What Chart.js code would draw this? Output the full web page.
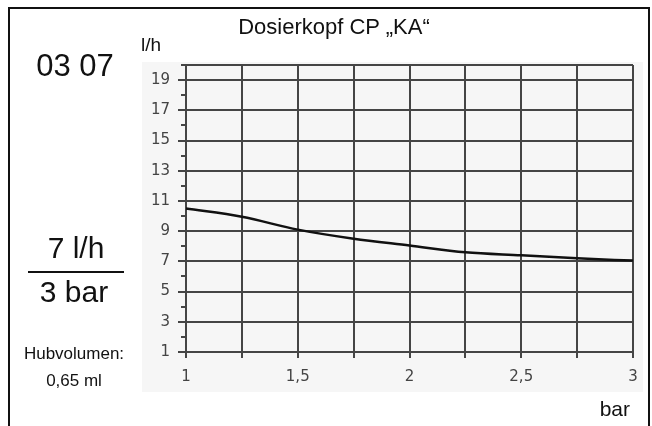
<!DOCTYPE html>
<html>
<head>
<meta charset="utf-8">
<script src="https://cdn.jsdelivr.net/npm/chart.js@4.4.1/dist/chart.umd.min.js"></script>
<style>
  html, body { margin: 0; padding: 0; background: #fff; }
  body { width: 652px; height: 426px; position: relative; overflow: hidden;
         font-family: "Liberation Sans", Arial, sans-serif; color: #111; }
  .frame { position: absolute; left: 8px; top: 7px; width: 638px; height: 430px;
           border-left: 2px solid #111; border-top: 2px solid #111; border-right: 2px solid #111; }
  .panel { position: absolute; left: 142px; top: 62px; width: 501px; height: 330px; background: #f6f6f6; }
  .txt { position: absolute; white-space: nowrap; }
  canvas { position: absolute; left: 0; top: 0; }
</style>
</head>
<body>
<div class="frame"></div>
<div class="panel"></div>
<canvas id="chart" width="652" height="426"></canvas>
<div class="txt" style="left:134px;width:400px;top:16px;font-size:22px;line-height:22px;text-align:center;">Dosierkopf CP „KA“</div>
<div class="txt" style="left:141px;top:35px;font-size:19px;line-height:19px;">l/h</div>
<div class="txt" style="left:15px;width:120px;top:50px;font-size:31px;line-height:31px;text-align:center;">03 07</div>
<div class="txt" style="left:16px;width:120px;top:233px;font-size:30px;line-height:30px;text-align:center;">7 l/h</div>
<div class="txt" style="left:28px;top:271px;width:96px;height:2px;background:#111;"></div>
<div class="txt" style="left:14px;width:120px;top:277px;font-size:30px;line-height:30px;text-align:center;">3 bar</div>
<div class="txt" style="left:14px;width:120px;top:345px;font-size:17px;line-height:17px;text-align:center;">Hubvolumen:</div>
<div class="txt" style="left:14px;width:120px;top:372px;font-size:17px;line-height:17px;text-align:center;">0,65 ml</div>
<div class="txt" style="left:530px;width:100px;top:398px;font-size:21px;line-height:21px;text-align:right;">bar</div>
<script>
// pressure (bar) vs. flow (l/h)
const pressure = [1, 1.25, 1.5, 1.75, 2, 2.25, 2.5, 2.75, 3];
const flow = [10.5, 9.95, 9.1, 8.5, 8.05, 7.6, 7.4, 7.2, 7.05];
const xTicks = [1, 1.25, 1.5, 1.75, 2, 2.25, 2.5, 2.75, 3];
const yTicks = [1, 3, 5, 7, 9, 11, 13, 15, 17, 19, 20];
const yMinorTicks = [2, 4, 6, 8, 10, 12, 14, 16, 18, 20];

const gridColor = '#454545';

const minorTicks = {
  id: 'minorTicks',
  afterDraw(chart) {
    const y = chart.scales.y;
    const ctx = chart.ctx;
    ctx.save();
    ctx.strokeStyle = gridColor;
    ctx.lineWidth = 2;
    yMinorTicks.forEach(v => {
      const py = Math.round(y.getPixelForValue(v));
      ctx.beginPath();
      ctx.moveTo(y.right - 5, py);
      ctx.lineTo(y.right, py);
      ctx.stroke();
    });
    ctx.restore();
  }
};

const ctx = document.getElementById('chart').getContext('2d');
new Chart(ctx, {
  type: 'line',
  data: {
    datasets: [{
      data: pressure.map((p, i) => ({ x: p, y: flow[i] })),
      borderColor: '#111',
      borderWidth: 2.5,
      pointRadius: 0,
      fill: false,
      cubicInterpolationMode: 'monotone',
    }]
  },
  options: {
    responsive: false,
    animation: false,
    layout: { padding: { left: 136, top: 65, right: 19, bottom: 34 } },
    plugins: { legend: { display: false }, tooltip: { enabled: false } },
    scales: {
      x: {
        type: 'linear',
        min: 1,
        max: 3,
        afterBuildTicks: scale => { scale.ticks = xTicks.map(v => ({ value: v })); },
        afterFit: scale => { scale.height = 40; },
        grid: { color: gridColor, lineWidth: 2, tickLength: 6, tickColor: gridColor },
        border: { color: gridColor, width: 2 },
        ticks: {
          autoSkip: false,
          maxRotation: 0,
          padding: 10,
          color: '#444',
          font: { family: 'DejaVu Sans', size: 15 },
          callback: v => (Number.isInteger(v * 2) ? String(v).replace('.', ',') : ''),
        },
      },
      y: {
        min: 1,
        max: 20,
        afterBuildTicks: scale => { scale.ticks = yTicks.map(v => ({ value: v })); },
        afterFit: scale => { scale.width = 50; },
        grid: {
          color: gridColor,
          lineWidth: 2,
          tickLength: 8,
          tickColor: c => (c.tick && c.tick.value === 20 ? 'rgba(0,0,0,0)' : gridColor),
        },
        border: { color: gridColor, width: 2 },
        ticks: {
          padding: 8,
          color: '#444',
          font: { family: 'DejaVu Sans', size: 15 },
          callback: v => (v === 20 ? '' : String(v)),
        },
      },
    },
  },
  plugins: [minorTicks],
});
</script>
</body>
</html>
